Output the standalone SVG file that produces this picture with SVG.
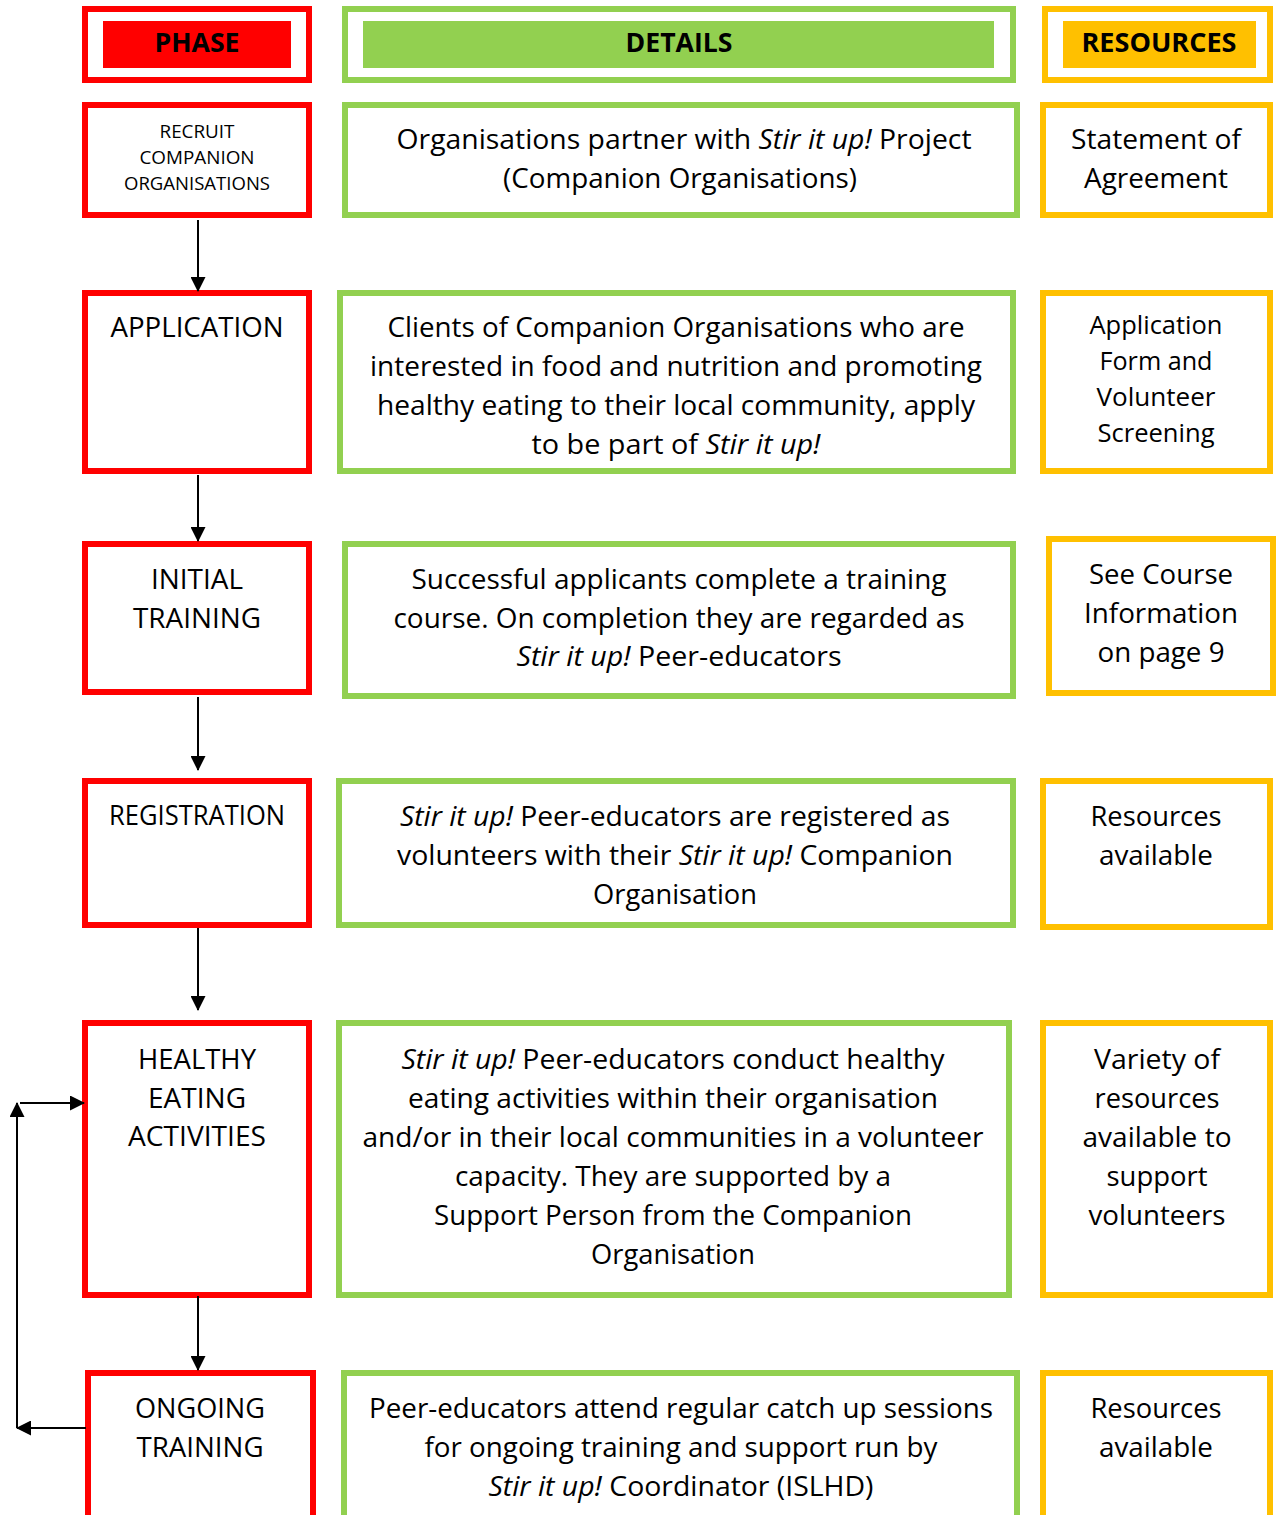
<svg xmlns="http://www.w3.org/2000/svg" width="1276" height="1515" viewBox="0 0 1276 1515">
<style>
.bg{fill:#ffffff}
.r{fill:#ffffff;stroke:#FF0000;stroke-width:6}
.g{fill:#ffffff;stroke:#92D050;stroke-width:6}
.o{fill:#ffffff;stroke:#FFC000;stroke-width:6}
.t{font-family:"Open Sans","Noto Sans",sans-serif;font-size:28px;fill:#000;text-anchor:middle}
.s{font-size:18px}
.m{font-size:26px}
.h{font-weight:bold;font-size:27px}
.i{font-style:italic}
.c{stroke:#000;stroke-width:2;fill:none}
</style>
<defs>
<marker id="ah" markerWidth="15" markerHeight="15" refX="14" refY="7.5" orient="auto" markerUnits="userSpaceOnUse">
<path d="M0,0 L15,7.5 L0,15 Z" fill="#000"/>
</marker>
</defs>
<rect class="bg" x="0" y="0" width="1276" height="1515"/>

<g id="hdr-phase">
<rect class="r" x="85" y="9" width="224" height="71"/>
<rect x="103" y="21" width="188" height="47" fill="#FF0000"/>
<text class="t h" x="197" y="52" textLength="85" lengthAdjust="spacingAndGlyphs">PHASE</text>
</g>
<g id="hdr-details">
<rect class="g" x="345" y="9" width="668" height="71"/>
<rect x="363" y="21" width="631" height="47" fill="#92D050"/>
<text class="t h" x="679" y="52" textLength="107" lengthAdjust="spacingAndGlyphs">DETAILS</text>
</g>
<g id="hdr-resources">
<rect class="o" x="1045" y="9" width="225" height="71"/>
<rect x="1063" y="21" width="193" height="47" fill="#FFC000"/>
<text class="t h" x="1159" y="52" textLength="155" lengthAdjust="spacingAndGlyphs">RESOURCES</text>
</g>

<!-- Row 1 -->
<g id="phase-recruit">
<rect class="r" x="85" y="105" width="224" height="110"/>
<text class="t s" x="197" y="138" textLength="75" lengthAdjust="spacingAndGlyphs">RECRUIT</text>
<text class="t s" x="197" y="164" textLength="115" lengthAdjust="spacingAndGlyphs">COMPANION</text>
<text class="t s" x="197" y="190" textLength="146" lengthAdjust="spacingAndGlyphs">ORGANISATIONS</text>
</g>
<g id="details-recruit">
<rect class="g" x="345" y="105" width="672" height="110"/>
<text class="t" x="684" y="149" textLength="575" lengthAdjust="spacingAndGlyphs">Organisations partner with <tspan class="i">Stir it up!</tspan> Project</text>
<text class="t" x="680" y="188" textLength="354" lengthAdjust="spacingAndGlyphs">(Companion Organisations)</text>
</g>
<g id="res-recruit">
<rect class="o" x="1043" y="105" width="227" height="110"/>
<text class="t" x="1156" y="149" textLength="170" lengthAdjust="spacingAndGlyphs">Statement of</text>
<text class="t" x="1156" y="188" textLength="144" lengthAdjust="spacingAndGlyphs">Agreement</text>
</g>

<!-- Row 2 -->
<g id="phase-application">
<rect class="r" x="85" y="293" width="224" height="178"/>
<text class="t" x="197" y="337" textLength="173" lengthAdjust="spacingAndGlyphs">APPLICATION</text>
</g>
<g id="details-application">
<rect class="g" x="340" y="293" width="673" height="178"/>
<text class="t" x="676" y="337" textLength="577" lengthAdjust="spacingAndGlyphs">Clients of Companion Organisations who are</text>
<text class="t" x="676" y="376" textLength="612" lengthAdjust="spacingAndGlyphs">interested in food and nutrition and promoting</text>
<text class="t" x="676" y="415" textLength="598" lengthAdjust="spacingAndGlyphs">healthy eating to their local community, apply</text>
<text class="t" x="676" y="454" textLength="289" lengthAdjust="spacingAndGlyphs">to be part of <tspan class="i">Stir it up!</tspan></text>
</g>
<g id="res-application">
<rect class="o" x="1043" y="293" width="227" height="178"/>
<text class="t m" x="1156" y="334" textLength="133" lengthAdjust="spacingAndGlyphs">Application</text>
<text class="t m" x="1156" y="370" textLength="113" lengthAdjust="spacingAndGlyphs">Form and</text>
<text class="t m" x="1156" y="406" textLength="119" lengthAdjust="spacingAndGlyphs">Volunteer</text>
<text class="t m" x="1156" y="442" textLength="117" lengthAdjust="spacingAndGlyphs">Screening</text>
</g>

<!-- Row 3 -->
<g id="phase-initial">
<rect class="r" x="85" y="544" width="224" height="148"/>
<text class="t" x="197" y="589" textLength="92" lengthAdjust="spacingAndGlyphs">INITIAL</text>
<text class="t" x="197" y="628" textLength="128" lengthAdjust="spacingAndGlyphs">TRAINING</text>
</g>
<g id="details-initial">
<rect class="g" x="345" y="544" width="668" height="152"/>
<text class="t" x="679" y="589" textLength="535" lengthAdjust="spacingAndGlyphs">Successful applicants complete a training</text>
<text class="t" x="679" y="628" textLength="571" lengthAdjust="spacingAndGlyphs">course. On completion they are regarded as</text>
<text class="t" x="679" y="666" textLength="325" lengthAdjust="spacingAndGlyphs"><tspan class="i">Stir it up!</tspan> Peer-educators</text>
</g>
<g id="res-initial">
<rect class="o" x="1049" y="539" width="224" height="154"/>
<text class="t" x="1161" y="584" textLength="144" lengthAdjust="spacingAndGlyphs">See Course</text>
<text class="t" x="1161" y="623" textLength="154" lengthAdjust="spacingAndGlyphs">Information</text>
<text class="t" x="1161" y="662" textLength="127" lengthAdjust="spacingAndGlyphs">on page 9</text>
</g>

<!-- Row 4 -->
<g id="phase-registration">
<rect class="r" x="85" y="781" width="224" height="144"/>
<text class="t" x="197" y="825" textLength="176" lengthAdjust="spacingAndGlyphs">REGISTRATION</text>
</g>
<g id="details-registration">
<rect class="g" x="339" y="781" width="674" height="144"/>
<text class="t" x="675" y="826" textLength="550" lengthAdjust="spacingAndGlyphs"><tspan class="i">Stir it up!</tspan> Peer-educators are registered as</text>
<text class="t" x="675" y="865" textLength="556" lengthAdjust="spacingAndGlyphs">volunteers with their <tspan class="i">Stir it up!</tspan> Companion</text>
<text class="t" x="675" y="904" textLength="164" lengthAdjust="spacingAndGlyphs">Organisation</text>
</g>
<g id="res-registration">
<rect class="o" x="1043" y="781" width="227" height="146"/>
<text class="t" x="1156" y="826" textLength="131" lengthAdjust="spacingAndGlyphs">Resources</text>
<text class="t" x="1156" y="865" textLength="114" lengthAdjust="spacingAndGlyphs">available</text>
</g>

<!-- Row 5 -->
<g id="phase-healthy">
<rect class="r" x="85" y="1023" width="224" height="272"/>
<text class="t" x="197" y="1069" textLength="118" lengthAdjust="spacingAndGlyphs">HEALTHY</text>
<text class="t" x="197" y="1108" textLength="98" lengthAdjust="spacingAndGlyphs">EATING</text>
<text class="t" x="197" y="1146" textLength="138" lengthAdjust="spacingAndGlyphs">ACTIVITIES</text>
</g>
<g id="details-healthy">
<rect class="g" x="339" y="1023" width="670" height="272"/>
<text class="t" x="673" y="1069" textLength="543" lengthAdjust="spacingAndGlyphs"><tspan class="i">Stir it up!</tspan> Peer-educators conduct healthy</text>
<text class="t" x="673" y="1108" textLength="530" lengthAdjust="spacingAndGlyphs">eating activities within their organisation</text>
<text class="t" x="673" y="1147" textLength="621" lengthAdjust="spacingAndGlyphs">and/or in their local communities in a volunteer</text>
<text class="t" x="673" y="1186" textLength="436" lengthAdjust="spacingAndGlyphs">capacity. They are supported by a</text>
<text class="t" x="673" y="1225" textLength="478" lengthAdjust="spacingAndGlyphs">Support Person from the Companion</text>
<text class="t" x="673" y="1264" textLength="164" lengthAdjust="spacingAndGlyphs">Organisation</text>
</g>
<g id="res-healthy">
<rect class="o" x="1043" y="1023" width="227" height="272"/>
<text class="t" x="1157" y="1069" textLength="126" lengthAdjust="spacingAndGlyphs">Variety of</text>
<text class="t" x="1157" y="1108" textLength="125" lengthAdjust="spacingAndGlyphs">resources</text>
<text class="t" x="1157" y="1147" textLength="149" lengthAdjust="spacingAndGlyphs">available to</text>
<text class="t" x="1157" y="1186" textLength="101" lengthAdjust="spacingAndGlyphs">support</text>
<text class="t" x="1157" y="1225" textLength="137" lengthAdjust="spacingAndGlyphs">volunteers</text>
</g>

<!-- Row 6 -->
<g id="phase-ongoing">
<rect class="r" x="88" y="1373" width="225" height="160"/>
<text class="t" x="200" y="1418" textLength="130" lengthAdjust="spacingAndGlyphs">ONGOING</text>
<text class="t" x="200" y="1457" textLength="127" lengthAdjust="spacingAndGlyphs">TRAINING</text>
</g>
<g id="details-ongoing">
<rect class="g" x="344" y="1373" width="673" height="160"/>
<text class="t" x="681" y="1418" textLength="624" lengthAdjust="spacingAndGlyphs">Peer-educators attend regular catch up sessions</text>
<text class="t" x="681" y="1457" textLength="513" lengthAdjust="spacingAndGlyphs">for ongoing training and support run by</text>
<text class="t" x="681" y="1496" textLength="385" lengthAdjust="spacingAndGlyphs"><tspan class="i">Stir it up!</tspan> Coordinator (ISLHD)</text>
</g>
<g id="res-ongoing">
<rect class="o" x="1043" y="1373" width="227" height="160"/>
<text class="t" x="1156" y="1418" textLength="131" lengthAdjust="spacingAndGlyphs">Resources</text>
<text class="t" x="1156" y="1457" textLength="114" lengthAdjust="spacingAndGlyphs">available</text>
</g>

<g id="connectors">
<line class="c" x1="198" y1="220" x2="198" y2="291" marker-end="url(#ah)"/>
<line class="c" x1="198" y1="475" x2="198" y2="541" marker-end="url(#ah)"/>
<line class="c" x1="198" y1="697" x2="198" y2="770" marker-end="url(#ah)"/>
<line class="c" x1="198" y1="928" x2="198" y2="1010" marker-end="url(#ah)"/>
<line class="c" x1="198" y1="1296" x2="198" y2="1370" marker-end="url(#ah)"/>
<line class="c" x1="86" y1="1428" x2="17" y2="1428" marker-end="url(#ah)"/>
<line class="c" x1="17" y1="1428" x2="17" y2="1103" marker-end="url(#ah)"/>
<line class="c" x1="20" y1="1103" x2="84" y2="1103" marker-end="url(#ah)"/>
</g>
</svg>
